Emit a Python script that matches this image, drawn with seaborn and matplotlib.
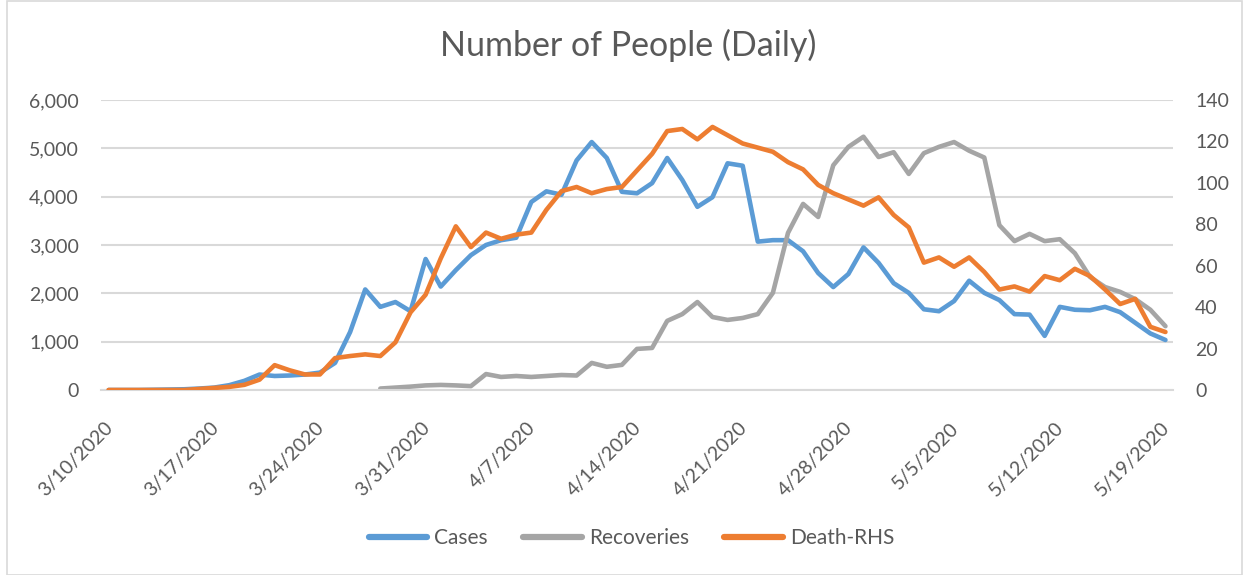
import numpy as np
import pandas as pd
import matplotlib
matplotlib.use("Agg")
import matplotlib.pyplot as plt
from matplotlib.lines import Line2D
from matplotlib.patches import Rectangle
from matplotlib.transforms import ScaledTranslation
import seaborn as sns

# Daily values, 3/10/2020 .. 5/19/2020
dates = pd.date_range("2020-03-10", "2020-05-19", freq="D")

cases = [0, 0, 0, 5, 10, 15, 30, 50, 100, 190,
         320, 290, 300, 320, 360, 560, 1200, 2080, 1720, 1820,
         1630, 2710, 2140, 2480, 2790, 3000, 3100, 3150, 3890, 4110,
         4040, 4750, 5130, 4800, 4100, 4070, 4280, 4800, 4345, 3790,
         3990, 4690, 4640, 3070, 3100, 3100, 2870, 2420, 2130, 2400,
         2950, 2630, 2210, 2010, 1670, 1630, 1840, 2260, 2010, 1860,
         1570, 1560, 1120, 1720, 1660, 1650, 1720, 1610, 1390, 1170,
         1035]

recoveries = [np.nan] * 18 + [
    30, 50, 70, 95, 105, 95, 80, 330, 270, 290,
    270, 290, 310, 300, 560, 480, 520, 850, 870, 1430,
    1570, 1820, 1510, 1450, 1490, 1570, 2010, 3250, 3850, 3580,
    4650, 5030, 5240, 4820, 4920, 4470, 4900, 5030, 5130, 4950,
    4810, 3410, 3080, 3230, 3080, 3120, 2830, 2340, 2130, 2030,
    1880, 1660, 1320]

deaths = [0, 0, 0, 0, 0, 0, 0.5, 1, 1.5, 2.5,
          5, 12, 9.5, 7.5, 7.5, 15.4, 16.4, 17.2, 16.4, 23,
          37.5, 46, 63.5, 79, 69, 76, 73, 75, 76, 87,
          96, 98, 95, 97, 98, 106, 114, 125, 126, 121,
          127, 123, 119, 117, 115, 110, 106.5, 99, 95, 92,
          89, 93, 84.5, 78.5, 61.5, 64, 59.5, 64, 57, 48.5,
          50, 47.5, 55, 53, 58.5, 55, 48.5, 41.5, 44, 30.5,
          28]

tick_dates = pd.date_range("2020-03-10", "2020-05-19", freq="7D")
tick_labels = [f"{d.month}/{d.day}/{d.year}" for d in tick_dates]
left_ticks = [0, 1000, 2000, 3000, 4000, 5000, 6000]
right_ticks = [0, 20, 40, 60, 80, 100, 120, 140]
series_names = ["Cases", "Recoveries", "Death-RHS"]

df = pd.DataFrame({"date": dates + pd.Timedelta(hours=12),
                   "Cases": cases, "Recoveries": recoveries, "Death-RHS": deaths})

sns.set_style("white")
plt.rcParams["font.family"] = ["Lato", "DejaVu Sans"]
txt = "#595959"
grid = "#d9d9d9"
colors = ["#5b9bd5", "#a5a5a5", "#ed7d31"]
lw = 3.3
ls = 14

fig = plt.figure(figsize=(12.48, 5.75), dpi=100)
fig.patches.append(Rectangle((7 / 1248, 0), 1235 / 1248, 0.998, transform=fig.transFigure,
                             fill=False, edgecolor=grid, linewidth=1.2))

ax = fig.add_axes([101 / 1248, 1 - 390 / 575, 1072 / 1248, 290 / 575])
ax2 = ax.twinx()

line_kw = dict(linewidth=lw, legend=False, solid_joinstyle="round", solid_capstyle="round")
sns.lineplot(data=df, x="date", y="Cases", ax=ax, color=colors[0], **line_kw)
sns.lineplot(data=df, x="date", y="Recoveries", ax=ax, color=colors[1], **line_kw)
sns.lineplot(data=df, x="date", y="Death-RHS", ax=ax2, color=colors[2], **line_kw)

ax.set_xlim(dates[0], dates[-1] + pd.Timedelta(days=1))
ax.set_ylim(0, 6000)
ax2.set_ylim(0, 140)
ax.set_yticks(left_ticks)
ax.set_yticklabels([f"{v:,}" for v in left_ticks])
ax2.set_yticks(right_ticks)
ax2.set_yticklabels([str(v) for v in right_ticks])
ax.set_xticks(tick_dates)
ax.set_xticklabels(tick_labels, rotation=45, ha="right", va="center", rotation_mode="anchor")
ax.set_xlabel("")
ax.set_ylabel("")
ax2.set_ylabel("")

ax.grid(axis="y", color=grid, linewidth=1.5)
ax.set_axisbelow(True)
for a in (ax, ax2):
    for s in ("left", "right", "top"):
        a.spines[s].set_visible(False)
ax.spines["bottom"].set_color(grid)
ax.spines["bottom"].set_linewidth(1.5)
ax2.spines["bottom"].set_visible(False)

ax.tick_params(axis="x", colors=grid, labelcolor=txt, length=7, width=1.5, direction="out",
               labelsize=ls, pad=4)
ax.tick_params(axis="y", length=0, labelcolor=txt, labelsize=ls, pad=16)
ax2.tick_params(axis="y", length=0, labelcolor=txt, labelsize=ls, pad=16)

off = ScaledTranslation(9 / 100, -20 / 100, fig.dpi_scale_trans)
for lab in ax.get_xticklabels():
    lab.set_transform(lab.get_transform() + off)

fig.text(0.503, 1 - 45 / 575, "Number of People (Daily)", ha="center", va="center",
         fontsize=24.5, color=txt)

handles = [Line2D([], [], color=c, linewidth=4.5, solid_capstyle="round") for c in colors]
fig.legend(handles, series_names, loc="center",
           bbox_to_anchor=(0.506, 1 - 538 / 575), ncol=3, frameon=False,
           fontsize=15, labelcolor=txt, handlelength=2.8, handletextpad=0.35,
           columnspacing=1.7)

fig.savefig("out.png", dpi=100)
